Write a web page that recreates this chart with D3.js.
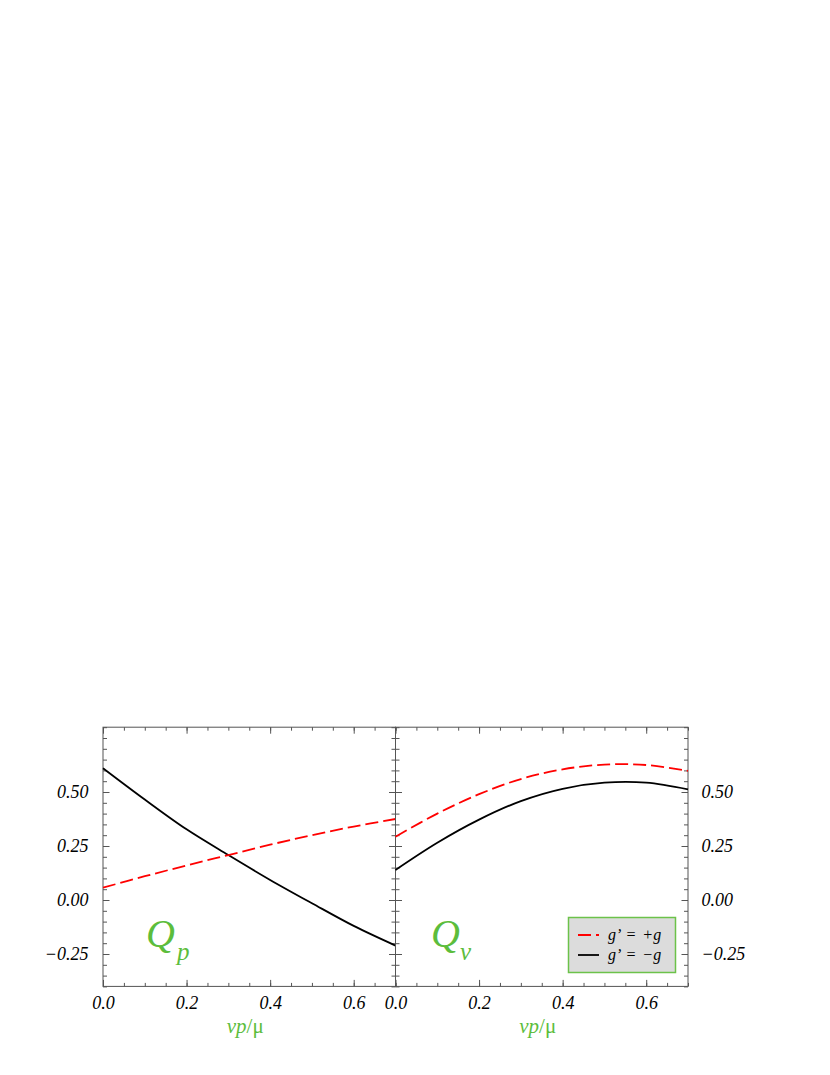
<!DOCTYPE html>
<html>
<head>
<meta charset="utf-8">
<script src="https://cdn.jsdelivr.net/npm/d3@7"></script>
<style>
  body { margin: 0; background: #fff; }
  svg { display: block; }
</style>
</head>
<body>
<script>
const svg_width = 830;
const svg_height = 1075;

// data
const xs = [0, 0.1, 0.2, 0.3, 0.4, 0.5, 0.6, 0.7];
const qp_plus = [0.057, 0.11, 0.16, 0.208, 0.256, 0.30, 0.34, 0.375];
const qp_minus = [0.61, 0.465, 0.327, 0.208, 0.093, -0.015, -0.12, -0.211];
const qv_plus = [0.293, 0.40, 0.49, 0.56, 0.605, 0.627, 0.625, 0.598];
const qv_minus = [0.139, 0.265, 0.372, 0.458, 0.515, 0.543, 0.543, 0.512];
const x_major = [0, 0.2, 0.4, 0.6];
const y_major = [-0.25, 0, 0.25, 0.5];
const legend_labels = ["g\u2019 = +g", "g\u2019 = \u2212g"];

const green = '#5cbd3c';
const serif = '"Liberation Serif", "Times New Roman", Times, serif';

const top_y = 727.2;
const bottom_y = 986.4;
const panels = [
    { id: 'qp', x0: 103, x1: 395.5, plus: qp_plus, minus: qp_minus, sub: 'p', labels: 'left', qx: 146, subx: 177 },
    { id: 'qv', x0: 395.5, x1: 688, plus: qv_plus, minus: qv_minus, sub: 'v', labels: 'right', qx: 431, subx: 460 }
];

const y = d3.scaleLinear().domain([-0.4, 0.8]).range([bottom_y, top_y]);
const minor_x = d3.range(0, 0.7001, 0.05);
const minor_y = d3.range(-0.4, 0.8001, 0.05);

const svg = d3.select('body').append('svg')
    .attr('width', svg_width)
    .attr('height', svg_height)
    .style('background-color', 'white');

panels.forEach(p => {
    const x = d3.scaleLinear().domain([0, 0.7]).range([p.x0, p.x1]);
    const g = svg.append('g').attr('id', p.id);

    // minor ticks, all pointing inward
    g.append('g').attr('transform', `translate(0,${bottom_y})`)
        .call(d3.axisBottom(x).tickValues(minor_x).tickSize(-3.5).tickFormat(''));
    g.append('g').attr('transform', `translate(0,${top_y})`)
        .call(d3.axisTop(x).tickValues(minor_x).tickSize(-3.5).tickFormat(''));
    g.append('g').attr('transform', `translate(${p.x0},0)`)
        .call(d3.axisLeft(y).tickValues(minor_y).tickSize(-4).tickFormat(''));
    g.append('g').attr('transform', `translate(${p.x1},0)`)
        .call(d3.axisRight(y).tickValues(minor_y).tickSize(-4).tickFormat(''));

    // major ticks + labels
    g.append('g').attr('class', 'lab').attr('transform', `translate(0,${bottom_y})`)
        .call(d3.axisBottom(x).tickValues(x_major).tickSize(-6.5).tickPadding(10).tickFormat(d3.format('.1f')));
    g.append('g').attr('transform', `translate(0,${top_y})`)
        .call(d3.axisTop(x).tickValues(x_major).tickSize(-6.5).tickFormat(''));
    g.append('g').attr('class', p.labels == 'left' ? 'lab' : '').attr('transform', `translate(${p.x0},0)`)
        .call(d3.axisLeft(y).tickValues(y_major).tickSize(-6.5).tickPadding(14.5)
            .tickFormat(p.labels == 'left' ? d3.format('.2f') : ''));
    g.append('g').attr('class', p.labels == 'right' ? 'lab' : '').attr('transform', `translate(${p.x1},0)`)
        .call(d3.axisRight(y).tickValues(y_major).tickSize(-6.5).tickPadding(13.5)
            .tickFormat(p.labels == 'right' ? d3.format('.2f') : ''));

    g.selectAll('.domain').remove();
    g.selectAll('.tick line').attr('stroke', '#555').attr('stroke-width', 1);
    g.selectAll('.lab text')
        .attr('font-family', serif)
        .attr('font-style', 'italic')
        .attr('font-size', 18)
        .attr('fill', '#000');

    g.append('rect')
        .attr('x', p.x0).attr('y', top_y)
        .attr('width', p.x1 - p.x0).attr('height', bottom_y - top_y)
        .attr('fill', 'none').attr('stroke', '#555').attr('stroke-width', 1);

    const line = d3.line()
        .x((d, i) => x(xs[i]))
        .y(d => y(d))
        .curve(d3.curveCatmullRom);

    g.append('path').datum(p.minus)
        .attr('d', line)
        .attr('fill', 'none').attr('stroke', '#000').attr('stroke-width', 1.8);
    g.append('path').datum(p.plus)
        .attr('d', line)
        .attr('fill', 'none').attr('stroke', '#ff0000').attr('stroke-width', 1.8)
        .attr('stroke-dasharray', '13,5');

    // panel label Q_p / Q_v
    const q = g.append('text')
        .attr('y', 946.5)
        .attr('font-family', serif)
        .attr('font-style', 'italic')
        .attr('fill', green);
    q.append('tspan').attr('x', p.qx).attr('font-size', 40).text('Q');
    q.append('tspan').attr('x', p.subx).attr('dy', 13.5).attr('font-size', 25).text(p.sub);

    // x axis title
    const t = g.append('text')
        .attr('x', (p.x0 + p.x1) / 2 - 4)
        .attr('y', 1033)
        .attr('text-anchor', 'middle')
        .attr('font-family', serif)
        .attr('font-size', 21)
        .attr('fill', green);
    t.append('tspan').attr('font-style', 'italic').text('\u03bdp');
    t.append('tspan').text('/\u03bc');
});

// legend
const leg = svg.append('g').attr('id', 'legend');
leg.append('rect')
    .attr('x', 568.5).attr('y', 917.5)
    .attr('width', 107).attr('height', 55)
    .attr('fill', '#dcdcdc')
    .attr('stroke', '#6cc24a').attr('stroke-width', 1.5);

const rows = [
    { label: legend_labels[0], color: '#ff0000', dash: '13,5', yy: 935 },
    { label: legend_labels[1], color: '#000', dash: null, yy: 955 }
];
rows.forEach(r => {
    leg.append('line')
        .attr('x1', 578).attr('x2', 599)
        .attr('y1', r.yy).attr('y2', r.yy)
        .attr('stroke', r.color).attr('stroke-width', 1.8)
        .attr('stroke-dasharray', r.dash);
    leg.append('text')
        .attr('x', 608).attr('y', r.yy + 4.5)
        .attr('font-family', serif)
        .attr('font-style', 'italic')
        .attr('font-size', 16)
        .attr('word-spacing', 2)
        .attr('fill', '#000')
        .text(r.label);
});
</script>
</body>
</html>
